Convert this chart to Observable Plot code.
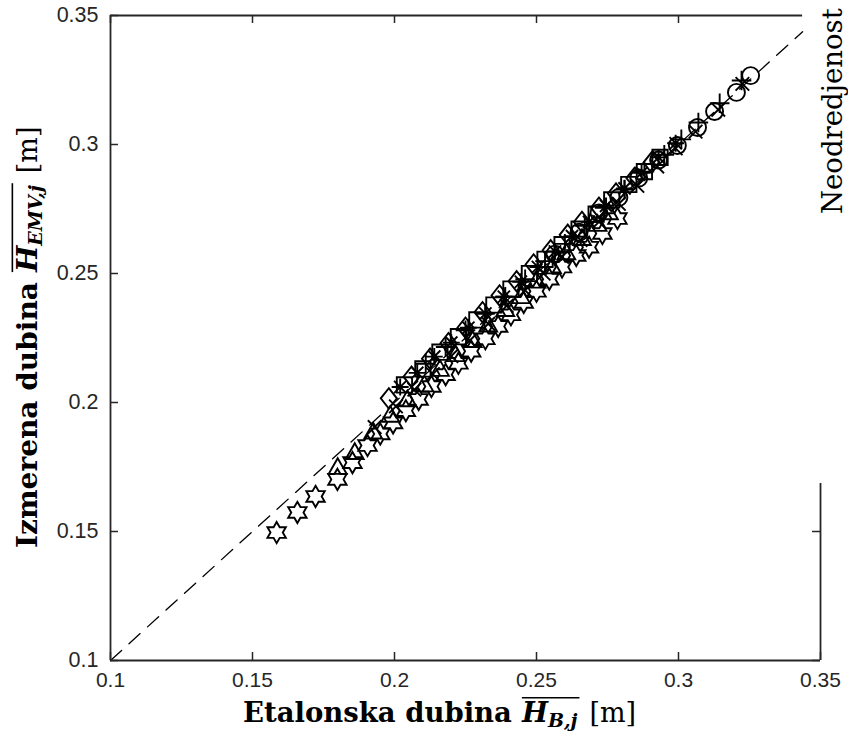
<!DOCTYPE html>
<html><head><meta charset="utf-8">
<script src="https://cdn.jsdelivr.net/npm/d3@7"></script>
<script src="https://cdn.jsdelivr.net/npm/@observablehq/plot@0.6"></script>
<style>body{margin:0;background:#fff}</style>
</head><body><div id="chart"></div>
<script>
// ---- tick values / labels ----
const X_TICKS = [0.1, 0.15, 0.2, 0.25, 0.3, 0.35];
const X_TICK_LABELS = ["0.1", "0.15", "0.2", "0.25", "0.3", "0.35"];
const Y_TICKS = [0.1, 0.15, 0.2, 0.25, 0.3, 0.35];
const Y_TICK_LABELS = ["0.1", "0.15", "0.2", "0.25", "0.3", "0.35"];
const DOMAIN = [0.1, 0.35];
const REF_LINE = [0.1, 0.3437];     // dashed y = x reference (visible extent)
const TOP_EDGE_END = 0.3437;        // visible extent of top box edge
const RIGHT_EDGE_END = 0.1686;      // visible extent of right box edge

// ---- series (Etalonska dubina x, Izmerena dubina y) ----
const hexX = [0.1585,0.1658,0.1722,0.1799,0.1852,0.1905,0.1950,0.1995,0.2040,0.2085,0.2130,0.2180,0.2225,0.2270,0.2320,0.2365,0.2410,0.2455,0.2500,0.2545,0.2590,0.2640,0.2685,0.2732,0.2785];
const hexY = [0.1496,0.1574,0.1636,0.1702,0.1767,0.1833,0.1878,0.1921,0.1968,0.2012,0.2062,0.2108,0.2152,0.2199,0.2247,0.2295,0.2340,0.2388,0.2431,0.2478,0.2525,0.2570,0.2602,0.2655,0.2713];
const triX = [0.1800,0.1860,0.1925,0.1985,0.2045,0.2105,0.2160,0.2215,0.2275,0.2330,0.2390,0.2445,0.2500,0.2555,0.2605,0.2660,0.2715,0.2755];
const triY = [0.1748,0.1806,0.1885,0.1950,0.2010,0.2068,0.2128,0.2185,0.2240,0.2300,0.2360,0.2410,0.2470,0.2525,0.2580,0.2635,0.2690,0.2735];
const diaX = [0.1980,0.2060,0.2125,0.2190,0.2250,0.2310,0.2370,0.2430,0.2490,0.2550,0.2610,0.2660,0.2720,0.2780,0.2845,0.2905];
const diaY = [0.2016,0.2100,0.2170,0.2230,0.2290,0.2350,0.2415,0.2470,0.2535,0.2590,0.2650,0.2700,0.2755,0.2810,0.2870,0.2930];
const sqX = [0.2035,0.2100,0.2160,0.2225,0.2290,0.2350,0.2410,0.2475,0.2530,0.2590,0.2650,0.2710,0.2765,0.2825,0.2880,0.2935];
const sqY = [0.2068,0.2130,0.2195,0.2255,0.2320,0.2378,0.2440,0.2500,0.2555,0.2612,0.2672,0.2730,0.2785,0.2845,0.2895,0.2950];
const astX = [0.2020,0.2080,0.2140,0.2200,0.2260,0.2320,0.2385,0.2445,0.2505,0.2565,0.2625,0.2685,0.2745,0.2810,0.2870,0.2930,0.2990];
const astY = [0.2060,0.2115,0.2178,0.2232,0.2290,0.2345,0.2410,0.2468,0.2525,0.2585,0.2645,0.2700,0.2762,0.2830,0.2890,0.2950,0.3005];
const timesX = [0.1930,0.2005,0.2070,0.2135,0.2200,0.2265,0.2330,0.2395,0.2460,0.2525,0.2590,0.2655,0.2720,0.2790,0.2855,0.2925,0.2990,0.3060,0.3140,0.3225];
const timesY = [0.1905,0.1985,0.2050,0.2110,0.2180,0.2240,0.2305,0.2375,0.2435,0.2500,0.2565,0.2630,0.2700,0.2770,0.2840,0.2915,0.2985,0.3050,0.3135,0.3235];
const plusX = [0.2110,0.2180,0.2250,0.2320,0.2390,0.2460,0.2530,0.2600,0.2670,0.2740,0.2810,0.2880,0.2950,0.3010,0.3070,0.3145,0.3222];
const plusY = [0.2150,0.2215,0.2280,0.2345,0.2410,0.2478,0.2548,0.2615,0.2685,0.2755,0.2825,0.2895,0.2960,0.3020,0.3085,0.3160,0.3248];
const circX = [0.2565,0.2650,0.2720,0.2790,0.2860,0.2930,0.2996,0.3067,0.3127,0.3204,0.3254];
const circY = [0.2575,0.2660,0.2735,0.2795,0.2870,0.2940,0.2996,0.3066,0.3128,0.3202,0.3267];

// ---- custom stroked marker shapes (MATLAB-like) ----
const sym = fn => ({draw(c, size) { fn(c, Math.sqrt(size / Math.PI)); }});
const shapes = {
  hexagram: sym((c, r) => {
    const R = r * 1.25, ri = R / Math.sqrt(3);
    for (let k = 0; k < 12; k++) {
      const a = -Math.PI / 2 + k * Math.PI / 6, rr = k % 2 ? ri : R;
      const px = rr * Math.cos(a), py = rr * Math.sin(a);
      k ? c.lineTo(px, py) : c.moveTo(px, py);
    }
    c.closePath();
  }),
  triangle: sym((c, r) => { c.moveTo(0, -1.1 * r); c.lineTo(1.05 * r, 0.75 * r); c.lineTo(-1.05 * r, 0.75 * r); c.closePath(); }),
  diamond: sym((c, r) => { c.moveTo(0, -1.2 * r); c.lineTo(0.95 * r, 0); c.lineTo(0, 1.2 * r); c.lineTo(-0.95 * r, 0); c.closePath(); }),
  square: sym((c, r) => { const h = 0.9 * r; c.moveTo(-h, -h); c.lineTo(h, -h); c.lineTo(h, h); c.lineTo(-h, h); c.closePath(); }),
  asterisk: sym((c, r) => {
    const p = r, q = 0.72 * r;
    c.moveTo(-p, 0); c.lineTo(p, 0); c.moveTo(0, -p); c.lineTo(0, p);
    c.moveTo(-q, -q); c.lineTo(q, q); c.moveTo(-q, q); c.lineTo(q, -q);
  }),
  times: sym((c, r) => { const q = 0.8 * r; c.moveTo(-q, -q); c.lineTo(q, q); c.moveTo(-q, q); c.lineTo(q, -q); }),
  plus: sym((c, r) => { const p = 1.15 * r; c.moveTo(-p, 0); c.lineTo(p, 0); c.moveTo(0, -p); c.lineTo(0, p); }),
  circle: sym((c, r) => { c.moveTo(r, 0); c.arc(0, 0, r, 0, 2 * Math.PI); })
};

const SERIES = [
  {shape: "hexagram", x: hexX, y: hexY},
  {shape: "triangle", x: triX, y: triY},
  {shape: "diamond", x: diaX, y: diaY},
  {shape: "square", x: sqX, y: sqY},
  {shape: "asterisk", x: astX, y: astY},
  {shape: "times", x: timesX, y: timesY},
  {shape: "plus", x: plusX, y: plusY},
  {shape: "circle", x: circX, y: circY}
];

const AX = "#262626";
const plotW = 848, plotH = 741;
const mL = 110, mR = 28, mT = 15, mB = 81;
const frameW = plotW - mL - mR, frameH = plotH - mT - mB;
const TICK = 8;

const marks = [
  Plot.line(REF_LINE.map(v => ({x: v, y: v})), {x: "x", y: "y", stroke: "#000", strokeWidth: 1.3, strokeDasharray: "15,10"}),
  ...SERIES.map(s => Plot.dot(s.x.map((x, i) => ({x, y: s.y[i]})), {
    x: "x", y: "y", r: 8.5, symbol: shapes[s.shape], fill: "none", stroke: "#000", strokeWidth: 1.9
  })),
  // box edges
  Plot.ruleY([DOMAIN[0]], {x1: DOMAIN[0], x2: DOMAIN[1], stroke: AX, strokeWidth: 1.8}),
  Plot.ruleX([DOMAIN[0]], {y1: DOMAIN[0], y2: DOMAIN[1], stroke: AX, strokeWidth: 1.8}),
  Plot.ruleY([DOMAIN[1]], {x1: DOMAIN[0], x2: TOP_EDGE_END, stroke: AX, strokeWidth: 1.8}),
  Plot.ruleX([DOMAIN[1]], {y1: DOMAIN[0], y2: RIGHT_EDGE_END, stroke: AX, strokeWidth: 1.8}),
  // inward ticks
  Plot.ruleX(X_TICKS, {insetTop: frameH - TICK, stroke: AX, strokeWidth: 1.5}),
  Plot.ruleX(X_TICKS.filter(t => t < TOP_EDGE_END), {insetBottom: frameH - TICK, stroke: AX, strokeWidth: 1.5}),
  Plot.ruleY(Y_TICKS, {insetRight: frameW - TICK, stroke: AX, strokeWidth: 1.5}),
  Plot.ruleY(Y_TICKS.filter(t => t <= RIGHT_EDGE_END), {insetLeft: frameW - TICK, stroke: AX, strokeWidth: 1.5}),
  // tick labels
  Plot.axisX({ticks: X_TICKS, tickSize: 0, tickPadding: 12, label: null, fontSize: 21, color: AX,
    tickFormat: d => X_TICK_LABELS[X_TICKS.indexOf(d)]}),
  Plot.axisY({ticks: Y_TICKS, tickSize: 0, tickPadding: 12, label: null, fontSize: 21.5, color: AX,
    tickFormat: d => Y_TICK_LABELS[Y_TICKS.indexOf(d)]})
];

const chart = Plot.plot({
  width: plotW, height: plotH,
  marginLeft: mL, marginRight: mR, marginTop: mT, marginBottom: mB,
  x: {domain: DOMAIN}, y: {domain: DOMAIN},
  style: {fontFamily: "Liberation Sans, Arial, sans-serif", background: "#fff", overflow: "hidden"},
  marks
});
document.getElementById("chart").appendChild(chart);

// ---- rich-text axis labels (overline + subscript) ----
const svg = d3.select(chart);
const SERIF = "DejaVu Serif, serif";
function richText(x, y, rotate, parts) {
  const g = svg.append("g").attr("transform", `translate(${x},${y}) rotate(${rotate})`);
  let cx = 0, o0 = null, o1 = null, oy = 0;
  for (const p of parts) {
    const t = g.append("text")
      .attr("x", cx).attr("y", p.dy || 0)
      .attr("text-anchor", "start")
      .attr("font-family", SERIF).attr("font-size", p.size)
      .attr("font-weight", p.bold ? "bold" : "normal")
      .attr("font-style", p.italic ? "italic" : "normal")
      .attr("fill", "#000").text(p.text);
    const w = t.node().getComputedTextLength();
    if (p.over) { if (o0 == null) { o0 = cx; oy = -p.size * 0.88; } o1 = cx + w; }
    cx += w + (p.after || 0);
  }
  if (o0 != null) g.append("line").attr("x1", o0).attr("x2", o1 + 2).attr("y1", oy).attr("y2", oy)
    .attr("stroke", "#000").attr("stroke-width", 1.6);
}
const X_LABEL = ["Etalonska dubina", "H", "B,j", "[m]"];
const Y_LABEL = ["Izmerena dubina", "H", "EMV,j", "[m]"];
const SIDE_LABEL = "Neodredjenost";

richText(243, 722, 0, [
  {text: X_LABEL[0], size: 27.5, bold: true, after: 10},
  {text: X_LABEL[1], size: 27.5, bold: true, italic: true, over: true},
  {text: X_LABEL[2], size: 19, bold: true, italic: true, dy: 5, over: true, after: 12},
  {text: X_LABEL[3], size: 27}
]);
richText(37, 548, -90, [
  {text: Y_LABEL[0], size: 28, bold: true, after: 10},
  {text: Y_LABEL[1], size: 28, bold: true, italic: true, over: true},
  {text: Y_LABEL[2], size: 19, bold: true, italic: true, dy: 5, over: true, after: 12},
  {text: Y_LABEL[3], size: 27}
]);
richText(842, 214, -90, [{text: SIDE_LABEL, size: 27.5}]);
</script>
</body></html>
